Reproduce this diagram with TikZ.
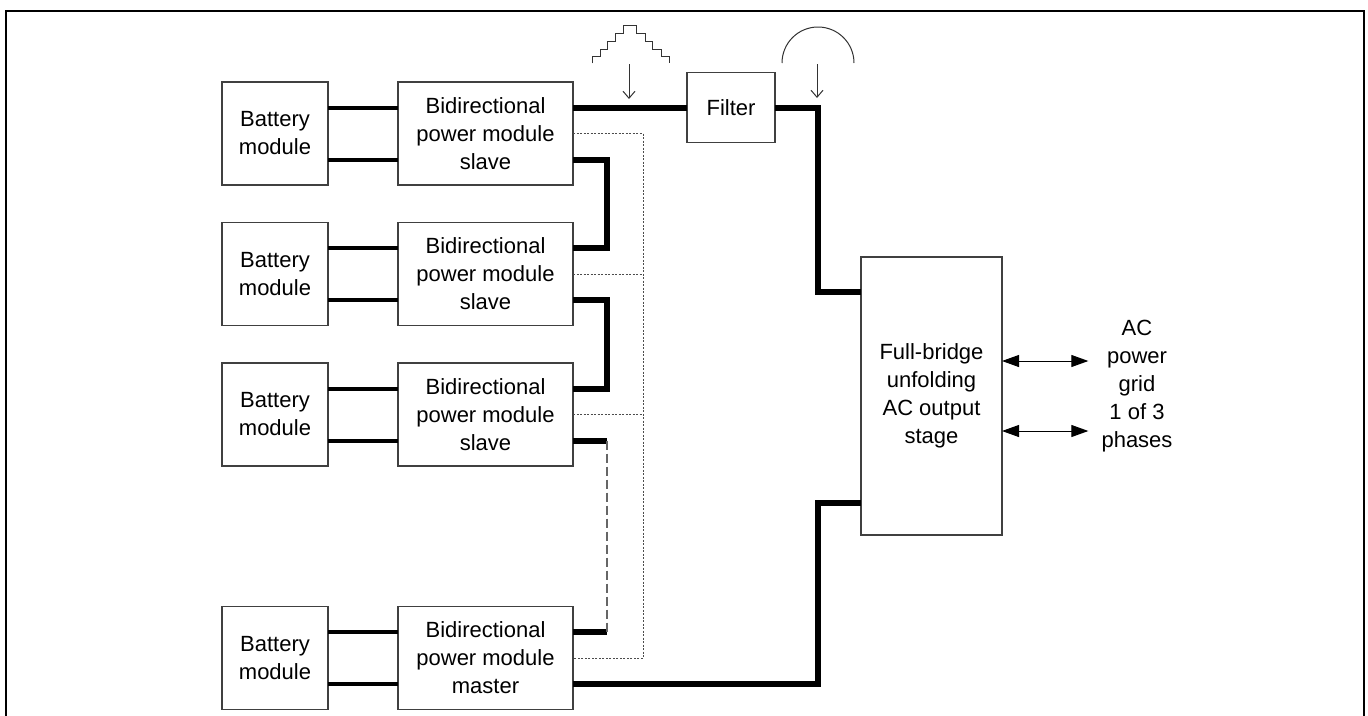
\documentclass[tikz,border=0pt]{standalone}
\usepackage{fontspec}
\setmainfont{Liberation Sans}
\usetikzlibrary{positioning,calc,arrows.meta}
\tikzset{
txt/.style={align=center, font=\fontsize{22}{28}\selectfont},
block/.style={txt, draw=black!75, line width=1.2pt, inner sep=0pt, outer sep=0pt},
battery/.style={block, minimum width=106pt, minimum height=103pt},
module/.style={block, minimum width=175pt, minimum height=103pt},
dcline/.style={line width=4pt},
bus/.style={line width=6pt},
ctrl/.style={draw=black!70, line width=0.9pt, dash pattern=on 2pt off 1.5pt},
link/.style={draw=black!60, line width=1.6pt, dash pattern=on 9pt off 4pt},
probe/.style={line width=1pt, black!80, -{Straight Barb[length=7pt,width=12pt]}},
wave/.style={line width=1pt, black!80},
gridlink/.style={line width=1pt, {Triangle[length=17pt,width=12pt]}-{Triangle[length=17pt,width=12pt]}},
}

\begin{document}
\begin{tikzpicture}[x=1pt,y=-1pt]
\useasboundingbox (0,0) rectangle (1368,715);
\draw[line width=2.5pt] (6,740) -- (6,11) -- (1364,11) -- (1364,740);

% battery + power module rows
\foreach \i/\y/\role in {1/133.5/slave,2/274/slave,3/414.5/slave,4/658/master}{
  \node[battery] (bat\i) at (275,\y) {Battery\\module};
  \node[module] (mod\i) at (485.5,\y) {Bidirectional\\power module\\\role};
  \draw[dcline] ([yshift=26pt]bat\i.east) -- ([yshift=26pt]mod\i.west);
  \draw[dcline] ([yshift=-26pt]bat\i.east) -- ([yshift=-26pt]mod\i.west);
}

\node[block, minimum width=88pt, minimum height=70pt] (filter) at (731,107.5) {Filter};
\node[block, minimum width=141pt, minimum height=278pt] (bridge) at (931.5,396)
  {Full-bridge\\unfolding\\AC output\\stage};
\node[txt, inner xsep=13pt] (grid) at (1137,386) {AC\\power\\grid\\1 of 3\\phases};

% series string of the modules
\coordinate (tapA) at (818,292);
\coordinate (tapB) at (818,503);
\draw[bus] ([yshift=26pt]mod1.east) -- (filter.west);
\draw[bus] (filter.east) -| (tapA) -- (tapA -| bridge.west);
\draw[bus] ([yshift=-26pt]mod4.east) -| (tapB) -- (tapB -| bridge.west);
\draw[bus] ([yshift=-26pt]mod1.east) -- ++(34,0) |- ([yshift=26pt]mod2.east);
\draw[bus] ([yshift=-26pt]mod2.east) -- ++(34,0) |- ([yshift=26pt]mod3.east);
\draw[bus] ([yshift=-26pt]mod3.east) -- ++(34,0) coordinate (gapA);
\draw[bus] ([yshift=26pt]mod4.east) -- ++(34,0) coordinate (gapB);
\draw[link] (gapA) -- (gapB);

% communication between master and slaves
\draw[ctrl] (mod1.east) -- ++(70,0) |- (mod4.east);
\draw[ctrl] (mod2.east) -- ++(70,0);
\draw[ctrl] (mod3.east) -- ++(70,0);

% grid side
\draw[gridlink] ([yshift=35pt]bridge.east) -- ([yshift=35pt]bridge.east -| grid.west);
\draw[gridlink] ([yshift=-35pt]bridge.east) -- ([yshift=-35pt]bridge.east -| grid.west);

% waveforms before and after the filter
\draw[wave] (592.3,63.3) -- (592.3,56.7) -- (600,56.7) -- (600,49.3) -- (607.3,49.3)
  -- (607.3,41.7) -- (615,41.7) -- (615,33.3) -- (623.3,33.3) -- (623.3,25)
  -- (636.7,25) -- (636.7,33.3) -- (645,33.3) -- (645,41.7) -- (652.7,41.7)
  -- (652.7,49.3) -- (661.7,49.3) -- (661.7,56.7) -- (669.3,56.7) -- (669.3,63.3);
\draw[probe] (629,64) -- (629,99);
\draw[wave] (782,63) arc[start angle=180, end angle=360, radius=36];
\draw[probe] (817,64) -- (817,98);
\end{tikzpicture}
\end{document}
